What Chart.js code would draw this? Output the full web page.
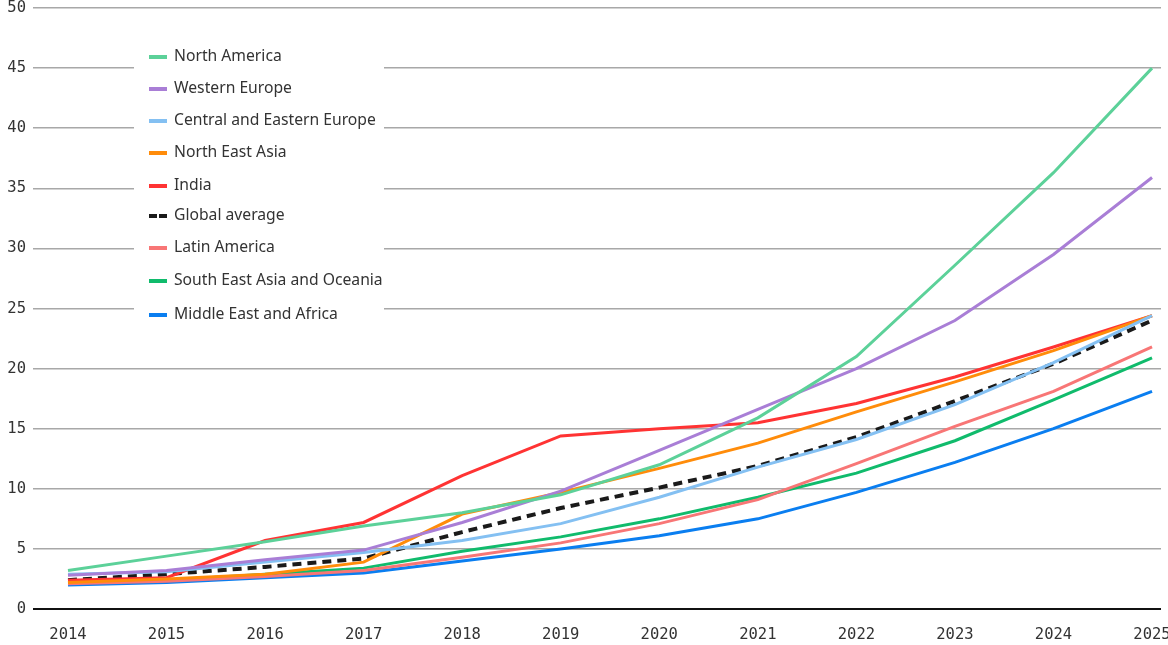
<!DOCTYPE html>
<html>
<head>
<meta charset="utf-8">
<script src="https://cdn.jsdelivr.net/npm/chart.js@4/dist/chart.umd.min.js"></script>
<style>
    html, body { margin: 0; padding: 0; background: #fff; overflow: hidden; }
    #wrap { width: 1168px; height: 645px; position: relative; }
</style>
</head>
<body>
<div id="wrap"><canvas id="chart"></canvas></div>
<script>
// Годы (ось X)
const years = [2014, 2015, 2016, 2017, 2018, 2019, 2020, 2021, 2022, 2023, 2024, 2025];

// Значения рядов
const northAmerica   = [3.2, 4.4, 5.6, 6.9, 8.0, 9.5, 12.0, 15.9, 21.0, 28.6, 36.3, 45.0];
const westernEurope  = [2.8, 3.2, 4.1, 4.9, 7.2, 9.8, 13.2, 16.6, 20.0, 24.0, 29.5, 35.9];
const centralEastern = [2.9, 3.1, 3.9, 4.7, 5.7, 7.1, 9.3, 11.8, 14.1, 17.0, 20.5, 24.4];
const northEastAsia  = [2.2, 2.5, 2.9, 3.9, 7.9, 9.7, 11.7, 13.8, 16.4, 18.9, 21.5, 24.4];
const india          = [2.4, 2.6, 5.7, 7.2, 11.1, 14.4, 15.0, 15.5, 17.1, 19.3, 21.8, 24.4];
const globalAverage  = [2.4, 2.9, 3.5, 4.2, 6.4, 8.4, 10.1, 11.9, 14.3, 17.3, 20.4, 24.0];
const latinAmerica   = [2.1, 2.3, 2.7, 3.2, 4.3, 5.5, 7.1, 9.1, 12.1, 15.2, 18.1, 21.8];
const seAsiaOceania  = [2.2, 2.4, 2.9, 3.4, 4.8, 6.0, 7.5, 9.3, 11.3, 14.0, 17.4, 20.9];
const middleEastAfr  = [2.0, 2.2, 2.6, 3.0, 4.0, 5.0, 6.1, 7.5, 9.7, 12.2, 15.0, 18.1];

// Подписи оси Y
const yTicks = [0, 5, 10, 15, 20, 25, 30, 35, 40, 45, 50];

// Ряды: подпись, значения, цвет, пунктир
const series = [
    ['North America', northAmerica, '#5cd199', null],
    ['Western Europe', westernEurope, '#a97ed6', null],
    ['Central and Eastern Europe', centralEastern, '#84c0f2', null],
    ['North East Asia', northEastAsia, '#ff8c0a', null],
    ['India', india, '#ff3333', null],
    ['Global average', globalAverage, '#1a1a1a', [9, 6]],
    ['Latin America', latinAmerica, '#f87676', null],
    ['South East Asia and Oceania', seAsiaOceania, '#10bb6c', null],
    ['Middle East and Africa', middleEastAfr, '#0a7ef0', null]
];

const legendRows = [57, 89, 121, 153, 186, 216, 248, 281, 315];

const toPoints = (vals) => years.map((yr, i) => ({ x: yr, y: vals[i] }));

// Легенда внутри области графика, на белой подложке
const boxLegend = {
    id: 'boxLegend',
    beforeDatasetsDraw(chart) {
        const ctx = chart.ctx;
        ctx.save();
        ctx.fillStyle = '#fff';
        ctx.fillRect(134, 38, 250, 294);
        ctx.font = '15.7px "Noto Sans"';
        ctx.textBaseline = 'middle';
        chart.data.datasets.forEach((ds, i) => {
            const y = legendRows[i];
            ctx.fillStyle = ds.borderColor;
            if (ds.borderDash && ds.borderDash.length) {
                ctx.fillRect(149, y - 2, 8, 4);
                ctx.fillRect(159, y - 2, 8, 4);
            } else {
                ctx.fillRect(149, y - 2, 18, 4);
            }
            ctx.fillStyle = '#333';
            ctx.fillText(ds.label, 174, y);
        });
        ctx.restore();
    }
};

const tickFont = { family: '"DejaVu Sans Mono", monospace', size: 15.5 };

new Chart(document.getElementById('chart'), {
    type: 'line',
    data: {
        datasets: series.map(([label, vals, color, dash]) => ({
            label: label,
            data: toPoints(vals),
            borderColor: color,
            backgroundColor: color,
            borderWidth: dash ? 4 : 3,
            borderDash: dash || [],
            pointRadius: 0,
            tension: 0
        }))
    },
    options: {
        responsive: true,
        maintainAspectRatio: false,
        animation: false,
        layout: { padding: { top: 8, right: 7, left: 0, bottom: 0 } },
        plugins: {
            legend: { display: false },
            tooltip: { enabled: false }
        },
        scales: {
            x: {
                type: 'linear',
                min: 2013.645,
                max: 2025.091,
                grid: { display: false },
                border: { display: false },
                ticks: {
                    stepSize: 1,
                    includeBounds: false,
                    autoSkip: false,
                    maxRotation: 0,
                    padding: 9,
                    color: '#333',
                    font: tickFont,
                    callback: (v) => Number.isInteger(v) ? String(v) : ''
                },
                afterFit: (scale) => {
                    scale.height = 36;
                    scale.paddingLeft = 0;
                    scale.paddingRight = 0;
                }
            },
            y: {
                min: 0,
                max: 50,
                afterBuildTicks: (scale) => {
                    scale.ticks = yTicks.map(v => ({ value: v }));
                },
                grid: {
                    drawTicks: false,
                    color: (c) => c.tick && c.tick.value === 0 ? '#111' : '#a8a8a8',
                    lineWidth: (c) => c.tick && c.tick.value === 0 ? 2 : 1.5
                },
                border: { display: false },
                ticks: {
                    padding: 7,
                    color: '#333',
                    font: tickFont
                },
                afterFit: (scale) => {
                    scale.width = 33;
                    scale.paddingTop = 0;
                    scale.paddingBottom = 0;
                }
            }
        }
    },
    plugins: [boxLegend]
});
</script>
</body>
</html>
